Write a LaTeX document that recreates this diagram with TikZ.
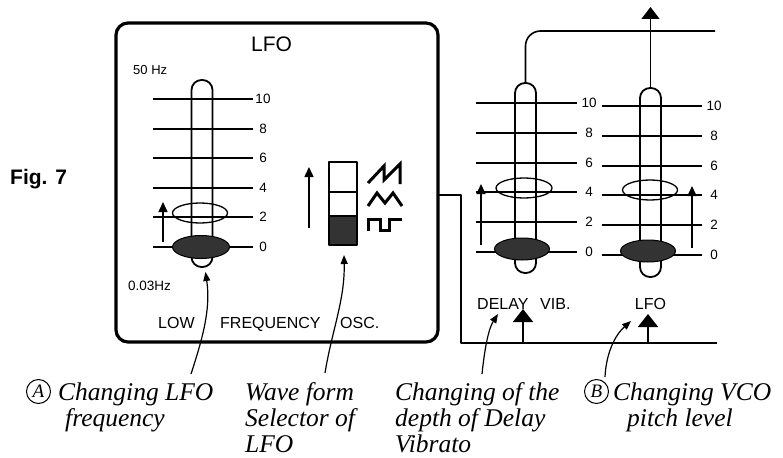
\documentclass[tikz,border=0pt]{standalone}
\usepackage{fontspec}
\setmainfont{Liberation Sans}
\newfontfamily\labelfont{Liberation Serif}
\usetikzlibrary{arrows.meta,shapes.geometric}
\begin{document}
\begin{tikzpicture}[x=1pt,y=-1pt,line join=round,
  scaleline/.style={line width=2pt},
  track/.style={draw,line width=1.8pt,rectangle,rounded corners=10pt,minimum width=21pt,inner sep=0pt},
  knobopen/.style={draw,ellipse,line width=1.3pt,minimum width=56pt,minimum height=20pt,inner sep=0pt},
  knobfill/.style={draw,ellipse,line width=1pt,fill=black!80,minimum width=56pt,minimum height=22pt,inner sep=0pt},
  ticklab/.style={font=\fontsize{13.5}{13.5}\selectfont,inner sep=0pt},
  panellab/.style={font=\fontsize{16}{16}\selectfont,inner sep=0pt},
  smallarrow/.style={line width=1.5pt,-{Triangle[length=10pt,width=9pt]}},
  bigarrow/.style={line width=1.8pt,-{Triangle[length=13pt,width=20pt]}},
  pointer/.style={line width=1.2pt,-{Triangle[length=9pt,width=7pt]}},
  frameline/.style={line width=1.7pt},
  caption/.style={font=\labelfont\itshape\fontsize{25.5}{26}\selectfont,inner sep=0pt,anchor=base west},
  circletter/.style={draw,circle,line width=1pt,minimum size=24pt,inner sep=0pt,font=\labelfont\itshape\fontsize{19}{19}\selectfont},
  wave/.style={line width=3pt,line cap=butt,line join=miter},
]
\useasboundingbox (0,0) rectangle (783,457);

% Fig. 7
\node[anchor=base west,inner sep=0pt,font=\bfseries\fontsize{21}{21}\selectfont] (fig) at (10,184) {Fig. 7};

% LFO panel box
\node[draw,rounded corners=12pt,line width=3.2pt,minimum width=322pt,minimum height=319pt,inner sep=0pt] (box) at (277,182.5) {};
\node[anchor=base,inner sep=0pt,font=\fontsize{21}{21}\selectfont] (lfotitle) at (271.5,52) {LFO};
\node[anchor=base west,inner sep=0pt,font=\fontsize{13}{13}\selectfont] (hz50) at (133,75) {50 Hz};
\node[anchor=base west,inner sep=0pt,font=\fontsize{13.5}{13.5}\selectfont] (hz003) at (128,290) {0.03Hz};

% LFO slider scale
\foreach \k in {0,2,4,6,8,10}{
  \pgfmathsetmacro\yy{round(247-\k*14.8)}
  \draw[scaleline] (153,\yy) -- (253,\yy);
  \node[ticklab] (la\k) at (263,\yy) {\k};
}
\node[track,minimum height=187pt] (trackA) at (202,173.5) {};
\node[knobopen,minimum width=55pt] (openA) at (200,213) {};
\node[knobfill,minimum width=57pt,minimum height=23pt] (fillA) at (201,247) {};
\coordinate (aA0) at (163,242);
\coordinate (aA1) at (163,202);
\draw[smallarrow] (aA0) -- (aA1);

% wave selector
\fill[black!80] (329,216) rectangle (357,245);
\node[draw,line width=1.8pt,minimum width=28pt,minimum height=83pt,inner sep=0pt] (sel) at (343,203.5) {};
\draw[line width=1.8pt] (329,192) -- (357,192);
\draw[line width=1.8pt] (329,216) -- (357,216);
\coordinate (aS0) at (309,228);
\coordinate (aS1) at (309,167);
\draw[smallarrow] (aS0) -- (aS1);
\draw[wave] (368,183) -- (384,166) -- (384,180) -- (400,164) -- (400,184);
\draw[wave] (368,206) -- (377,193) -- (385,203) -- (393,193) -- (402,206);
\draw[wave] (368,231) -- (368,219) -- (380,219) -- (380,230) -- (389,230) -- (389,219) -- (402,219);

% panel bottom text
\node[panellab,anchor=base west] (low) at (158,328) {LOW};
\node[panellab,anchor=base west] (freq) at (220,328) {FREQUENCY};
\node[panellab,anchor=base west] (osc) at (340,328) {OSC.};

% right: delay vib slider
\foreach \k in {0,2,4,6,8,10}{
  \pgfmathsetmacro\yy{round(252-\k*14.9)}
  \draw[scaleline] (476,\yy) -- (577,\yy);
  \node[ticklab] (ld\k) at (589,\yy) {\k};
}
\node[track,minimum height=190pt] (trackD) at (525.5,178) {};
\node[knobopen] (openD) at (524,188) {};
\node[knobfill,minimum width=55pt] (fillD) at (522,249) {};
\coordinate (aD0) at (481,245);
\coordinate (aD1) at (481,184);
\draw[smallarrow] (aD0) -- (aD1);

% right: LFO slider
\foreach \k in {0,2,4,6,8,10}{
  \pgfmathsetmacro\yy{round(255-\k*14.9)}
  \draw[scaleline] (602,\yy) -- (702,\yy);
  \node[ticklab] (ll\k) at (714,\yy) {\k};
}
\node[track,minimum height=189pt] (trackL) at (650.5,182.5) {};
\node[knobopen,minimum width=55pt] (openL) at (650,190) {};
\node[knobfill,minimum width=55pt] (fillL) at (648,251) {};
\coordinate (aL0) at (692,248);
\coordinate (aL1) at (692,186);
\draw[smallarrow] (aL0) -- (aL1);

% top connections
\coordinate (topEnd) at (715,31);
\draw[line width=1.6pt,rounded corners=15pt] (trackD.north) |- (topEnd);
\coordinate (topTip) at (650.5,7);
\draw[line width=1.4pt,-{Triangle[length=12pt,width=18pt]}] (trackL.north) -- (topTip);

% frame from box to bottom line
\coordinate (boxR) at (438,195);
\coordinate (fr1) at (461,195);
\coordinate (fr2) at (461,343);
\coordinate (fr3) at (717,343);
\draw[frameline] (boxR) -- (fr1) -- (fr2) -- (fr3);

\node[panellab,anchor=base west] (delay) at (477,309) {DELAY};
\node[panellab,anchor=base west] (vib) at (540,309) {VIB.};
\node[panellab,anchor=base] (lfoR) at (650.5,309) {LFO};

\coordinate (bD0) at (523,343);
\coordinate (bD1) at (523,309);
\draw[bigarrow] (bD0) -- (bD1);
\coordinate (bL0) at (648,343);
\coordinate (bL1) at (648,314);
\draw[bigarrow] (bL0) -- (bL1);

% captions
\node[circletter] (cA) at (38.5,391.5) {A};
\node[caption] (capA1) at (58,400) {Changing LFO};
\node[caption] (capA2) at (65,426) {frequency};
\node[caption] (capW1) at (245,400) {Wave form};
\node[caption] (capW2) at (245,426) {Selector of};
\node[caption] (capW3) at (245,452) {LFO};
\node[caption] (capD1) at (395,400) {Changing of the};
\node[caption] (capD2) at (395,426) {depth of Delay};
\node[caption] (capD3) at (395,452) {Vibrato};
\node[circletter] (cB) at (596.5,391.5) {B};
\node[caption] (capB1) at (613,400) {Changing VCO};
\node[caption] (capB2) at (627,426) {pitch level};

% pointer curves
\coordinate (pA0) at (191,374);
\coordinate (pA1) at (205.5,272);
\draw[pointer] (pA0) .. controls (202,340) and (211,310) .. (pA1);
\coordinate (pW0) at (325,373);
\coordinate (pW1) at (344,255);
\draw[pointer] (pW0) .. controls (332,330) and (345,300) .. (pW1);
\coordinate (pD0) at (482,374);
\coordinate (pD1) at (498,314);
\draw[pointer] (pD0) .. controls (485,345) and (489,328) .. (pD1);
\coordinate (pB0) at (605,377);
\coordinate (pB1) at (631,321);
\draw[pointer] (pB0) .. controls (606,355) and (614,336) .. (pB1);
\end{tikzpicture}
\end{document}
